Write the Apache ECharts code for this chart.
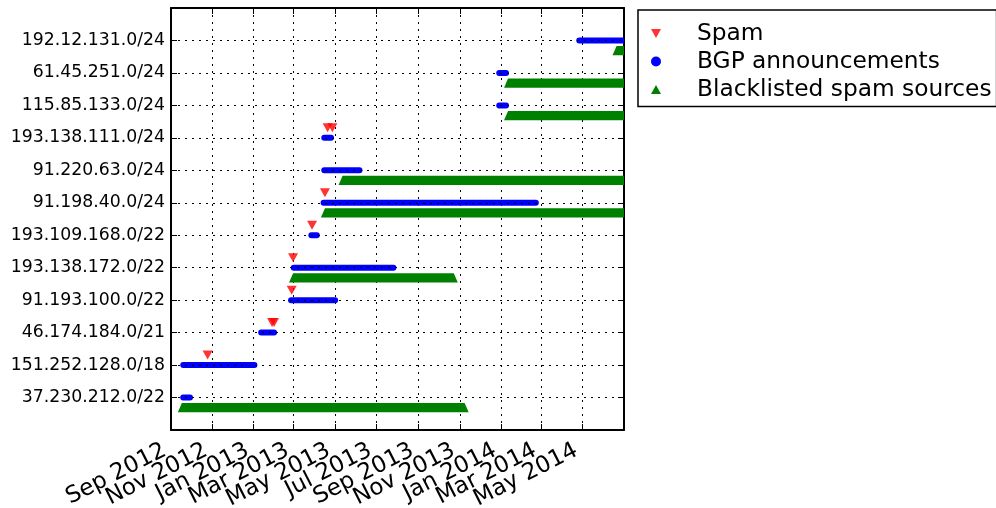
<!DOCTYPE html>
<html>
<head>
<meta charset="utf-8">
<script src="https://cdn.jsdelivr.net/npm/echarts@6/dist/echarts.min.js"></script>
<style>
  html, body { margin: 0; padding: 0; background: #fff; }
  #chart { width: 996px; height: 508px; }
</style>
</head>
<body>
<div id="chart"></div>
<script>
// prefixes, bottom to top
const prefixes = [
  '37.230.212.0/22', '151.252.128.0/18', '46.174.184.0/21', '91.193.100.0/22',
  '193.138.172.0/22', '193.109.168.0/22', '91.198.40.0/24', '91.220.63.0/24',
  '193.138.111.0/24', '115.85.133.0/24', '61.45.251.0/24', '192.12.131.0/24'
]

const xTickDates = [
  '2012-09-01', '2012-11-01', '2013-01-01', '2013-03-01', '2013-05-01', '2013-07-01',
  '2013-09-01', '2013-11-01', '2014-01-01', '2014-03-01', '2014-05-01'
]
const xTickLabels = [
  'Sep 2012', 'Nov 2012', 'Jan 2013', 'Mar 2013', 'May 2013', 'Jul 2013',
  'Sep 2013', 'Nov 2013', 'Jan 2014', 'Mar 2014', 'May 2014'
]
const xMin = '2012-09-01'
const xMax = '2014-07-01'

// spam events
const spamDates = ['2012-10-25', '2013-01-28', '2013-01-31', '2013-02-26', '2013-02-28',
  '2013-03-28', '2013-04-16', '2013-04-20', '2013-04-27']
const spamRows = [1, 2, 2, 3, 4, 5, 6, 8, 8]

// BGP announcements
const bgpStart = ['2012-09-19', '2012-09-19', '2013-01-12', '2013-02-25', '2013-03-01', '2013-03-27',
  '2013-04-14', '2013-04-15', '2013-04-15', '2013-12-29', '2013-12-29', '2014-04-26']
const bgpEnd = ['2012-09-29', '2013-01-02', '2013-01-31', '2013-05-01', '2013-07-26', '2013-04-04',
  '2014-02-21', '2013-06-06', '2013-04-25', '2014-01-08', '2014-01-08', '2014-07-31']
const bgpRows = [0, 1, 2, 3, 4, 5, 6, 7, 8, 9, 10, 11]

// blacklisted spam sources
const blStart = ['2012-09-17', '2013-02-28', '2013-04-16', '2013-05-12', '2014-01-11', '2014-01-11', '2014-06-20']
const blEnd = ['2013-11-08', '2013-10-23', '2014-07-31', '2014-07-31', '2014-07-31', '2014-07-31', '2014-07-31']
const blRows = [0, 4, 6, 7, 9, 10, 11]

const t = s => {
  const [y, m, d] = s.split('-').map(Number)
  return Date.UTC(y, m - 1, d)
}
const xTickTimes = xTickDates.map(t)
// 1 ms of slack so the edge labels are not first/last (echarts hides overlapping edge labels)
const axisMin = t(xMin) - 1
const axisMax = t(xMax) + 1
const xLabelValues = [axisMin, ...xTickTimes, axisMax]
const FONT = 'DejaVu Sans'

const chart = echarts.init(document.getElementById('chart'))

// blue capsule
const renderBgp = (params, api) => {
  const cs = params.coordSys
  const p1 = api.coord([api.value(0), api.value(2)])
  const p2 = api.coord([api.value(1), api.value(2)])
  const right = cs.x + cs.width
  const x1 = p1[0] - 3
  let x2 = p2[0] + 3
  const cut = x2 > right
  if (cut) x2 = right
  return {
    type: 'rect',
    shape: { x: x1, y: p1[1] - 3, width: x2 - x1, height: 6, r: cut ? [3, 0, 0, 3] : 3 },
    style: { fill: api.visual('color') }
  }
}

// band of overlapping up-triangles
const renderBl = (params, api) => {
  const cs = params.coordSys
  const right = cs.x + cs.width
  const p1 = api.coord([api.value(0), api.value(2)])
  const p2 = api.coord([api.value(1), api.value(2)])
  const top = p1[1] + 5.5
  const bot = p1[1] + 14.8
  const hw = 4
  const c = x => Math.min(x, right)
  return {
    type: 'polygon',
    shape: { points: [[p1[0], top], [c(p2[0]), top], [c(p2[0] + hw), bot], [p1[0] - hw, bot]] },
    style: { fill: api.visual('color') }
  }
}

const xLabel = v => {
  const i = xTickTimes.indexOf(v)
  return i >= 0 ? xTickLabels[i] : ' '
}

const option = {
  animation: false,
  textStyle: { fontFamily: FONT },
  grid: { left: 171, top: 8, right: 372, bottom: 78, outerBoundsMode: 'none' },
  legend: {
    orient: 'vertical',
    left: 638,
    top: 10,
    padding: [11.5, 5, 5, 13],
    itemWidth: 10,
    itemHeight: 10,
    itemGap: 4,
    borderColor: '#000',
    borderWidth: 1.5,
    borderRadius: 0,
    textStyle: { fontFamily: FONT, fontSize: 23.3, color: '#000', lineHeight: 24, padding: [0, 0, 0, 31] },
    data: [
      { name: 'Spam', icon: 'path://M0,0 L10,0 L5,9 Z' },
      { name: 'BGP announcements', icon: 'circle' },
      { name: 'Blacklisted spam sources', icon: 'path://M5,0 L10,9 L0,9 Z' }
    ]
  },
  xAxis: [
    {
      type: 'value',
      min: axisMin,
      max: axisMax,
      axisLine: { show: true, onZero: false, lineStyle: { color: '#000', width: 2 } },
      axisTick: { show: true, inside: true, length: 6, customValues: xTickTimes, lineStyle: { color: '#000' } },
      axisLabel: {
        customValues: xLabelValues,
        interval: 0,
        rotate: 27,
        margin: 16,
        fontFamily: FONT,
        fontSize: 23,
        color: '#000',
        padding: [0, 7, 0, 0],
        formatter: xLabel
      },
      splitLine: { show: true, lineStyle: { color: '#000', width: 1, type: [2, 5] } }
    },
    {
      type: 'value',
      position: 'top',
      min: axisMin,
      max: axisMax,
      axisLine: { show: true, onZero: false, lineStyle: { color: '#000', width: 2 } },
      axisTick: { show: true, inside: true, length: 6, customValues: xTickTimes, lineStyle: { color: '#000' } },
      axisLabel: { show: false },
      splitLine: { show: false }
    }
  ],
  yAxis: [
    {
      type: 'value',
      min: -1,
      max: 12,
      interval: 1,
      z: 5,
      axisLine: { show: true, onZero: false, lineStyle: { color: '#000', width: 2 } },
      axisTick: { show: true, inside: true, length: 6, lineStyle: { color: '#000' } },
      axisLabel: {
        margin: 6,
        fontFamily: FONT,
        fontSize: 17.3,
        color: '#000',
        formatter: v => prefixes[v] || ''
      },
      splitLine: { show: true, lineStyle: { color: '#000', width: 1, type: [2, 5] } }
    },
    {
      type: 'value',
      position: 'right',
      min: -1,
      max: 12,
      interval: 1,
      axisLine: { show: true, onZero: false, lineStyle: { color: '#000', width: 2 } },
      axisTick: { show: true, inside: true, length: 6, lineStyle: { color: '#000' } },
      axisLabel: { show: false },
      splitLine: { show: false }
    }
  ],
  series: [
    {
      name: 'Spam',
      type: 'scatter',
      symbol: 'path://M0,0 L10,0 L5,9 Z',
      symbolSize: [10, 9],
      symbolOffset: [0, -10],
      itemStyle: { color: '#ff0000' },
      data: spamDates.map((d, i) => [t(d), spamRows[i]]),
      z: 3
    },
    {
      name: 'BGP announcements',
      type: 'custom',
      renderItem: renderBgp,
      itemStyle: { color: '#0000ff' },
      encode: { x: [0, 1], y: 2 },
      data: bgpStart.map((d, i) => [t(d), t(bgpEnd[i]), bgpRows[i]]),
      z: 2
    },
    {
      name: 'Blacklisted spam sources',
      type: 'custom',
      renderItem: renderBl,
      itemStyle: { color: '#008000' },
      encode: { x: [0, 1], y: 2 },
      data: blStart.map((d, i) => [t(d), t(blEnd[i]), blRows[i]]),
      z: 2
    }
  ]
}

chart.setOption(option)
</script>
</body>
</html>
